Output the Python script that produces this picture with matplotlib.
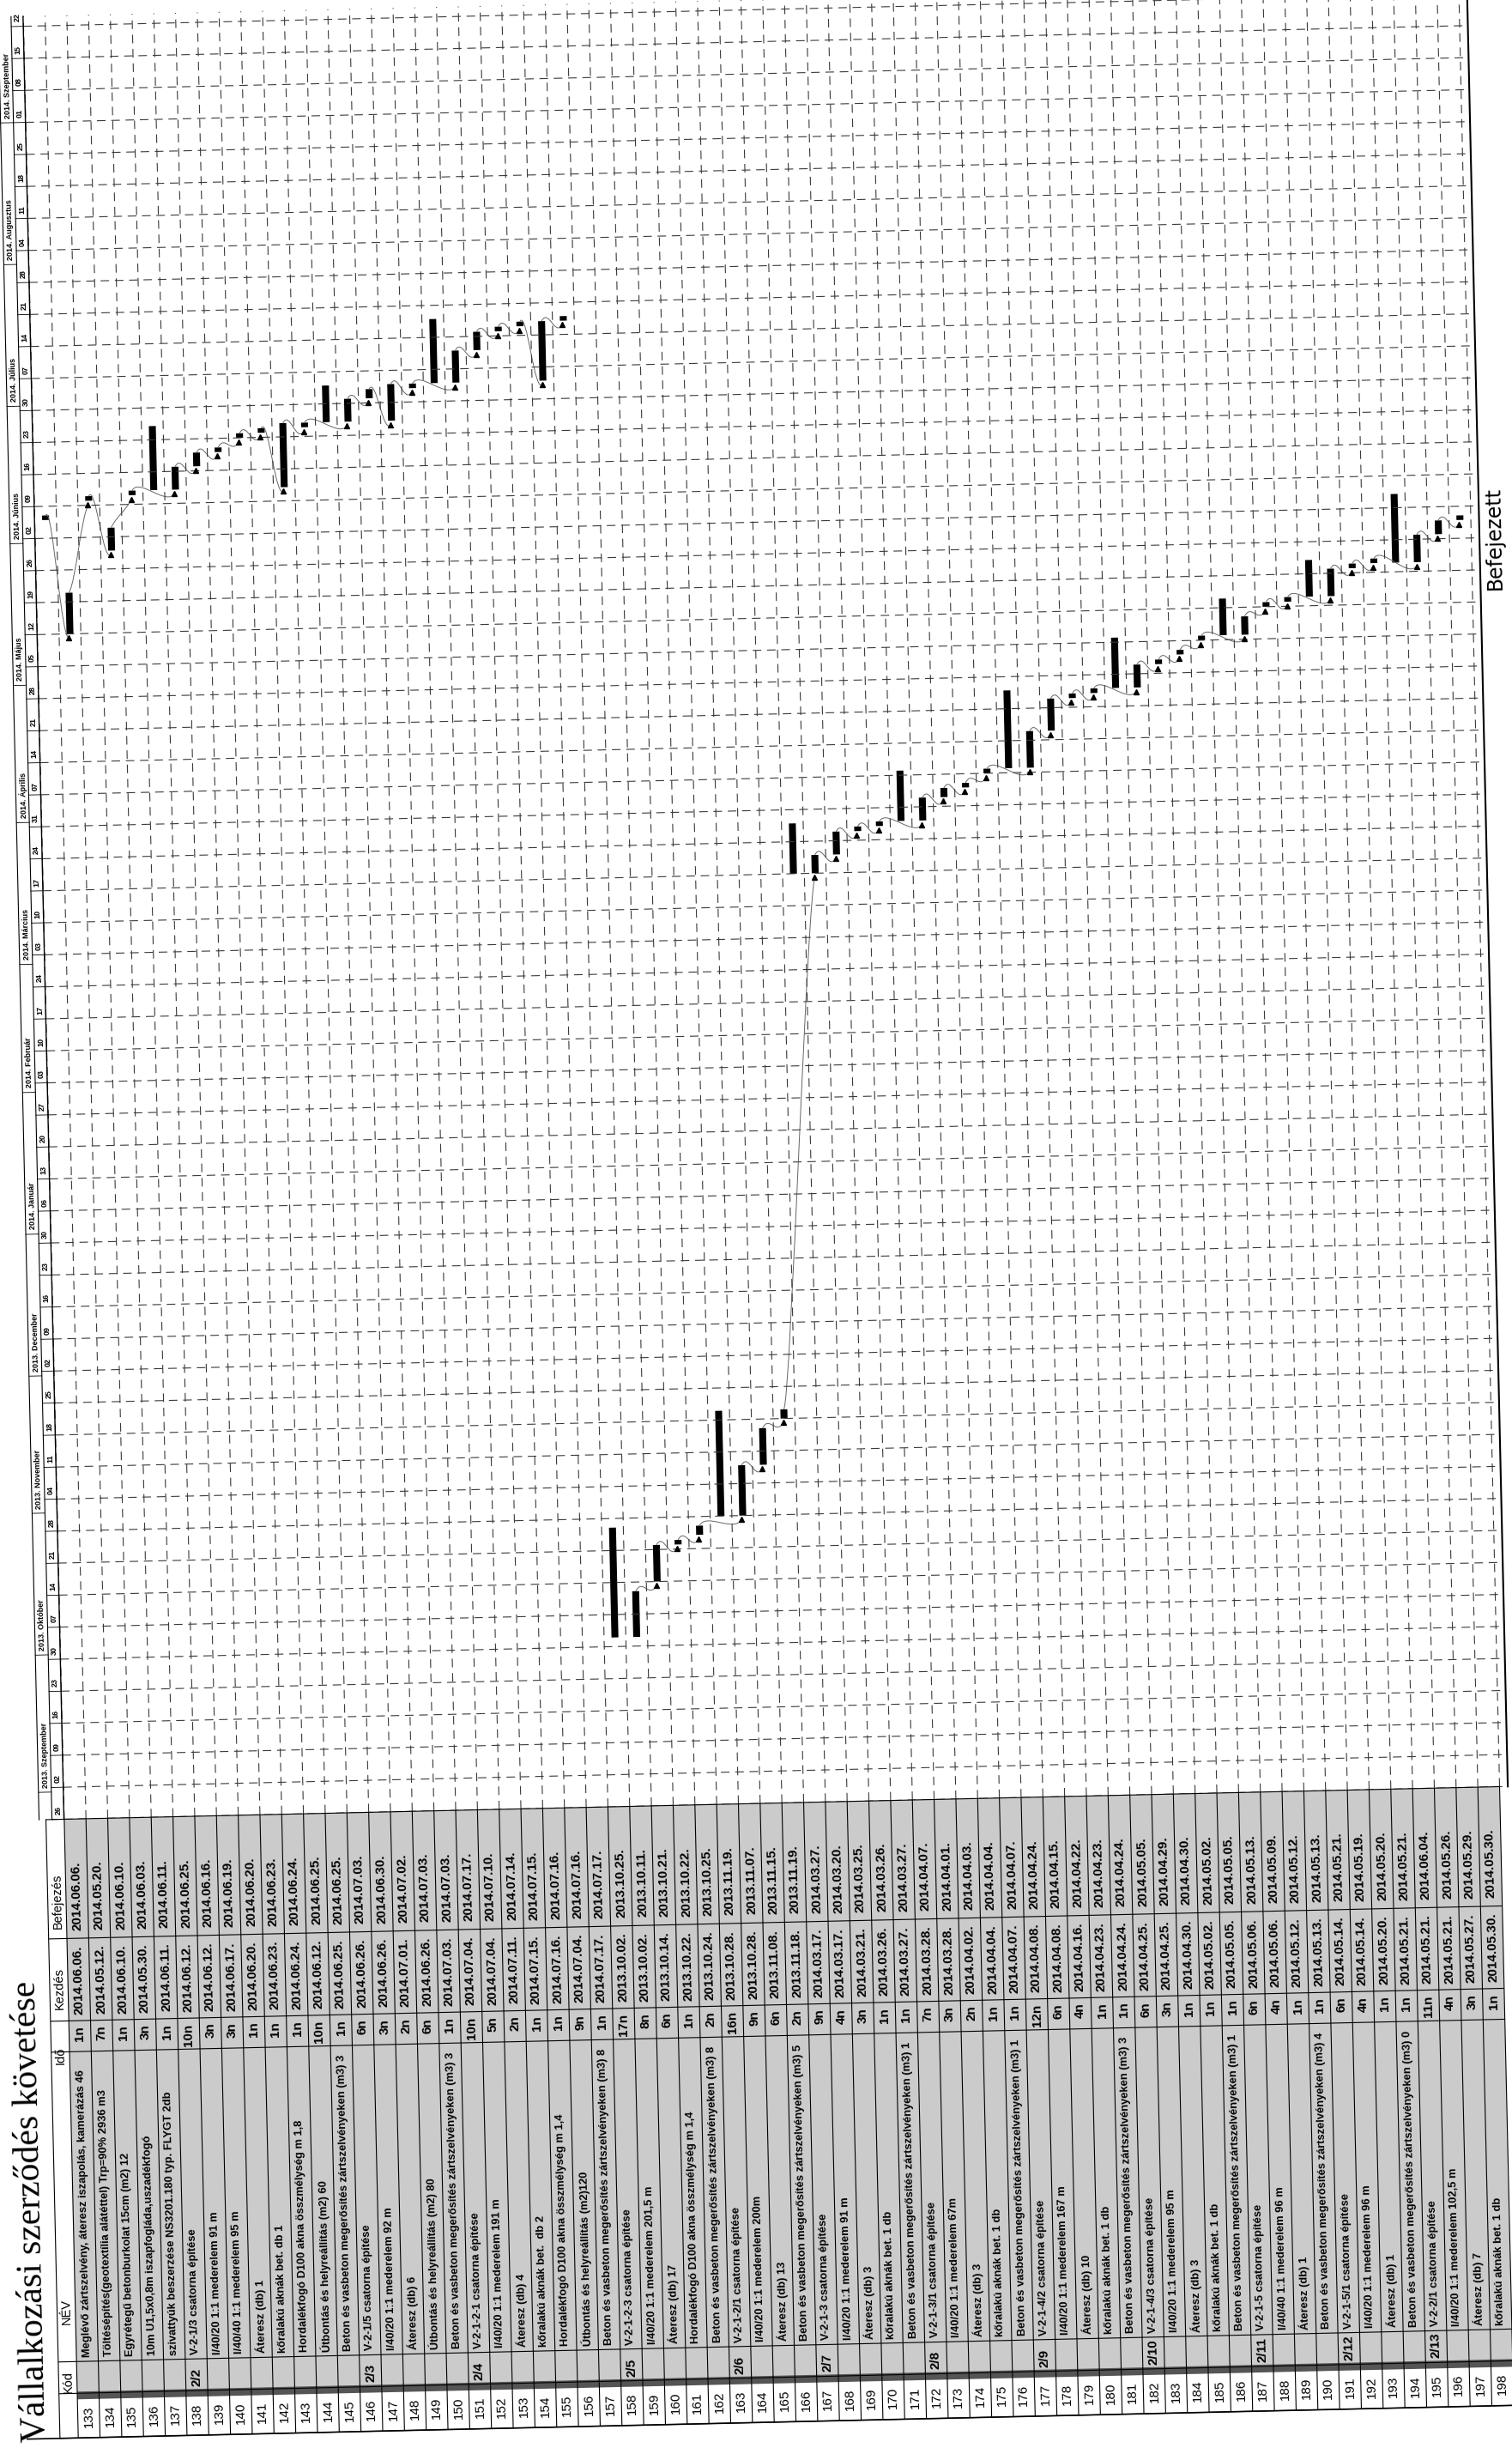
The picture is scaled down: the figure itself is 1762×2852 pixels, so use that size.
import pandas as pd
import numpy as np
import matplotlib
matplotlib.use("Agg")
import matplotlib.pyplot as plt
import matplotlib.dates as mdates
import matplotlib.transforms as mtransforms
import matplotlib.path as mpath
import matplotlib.patches as mpatches
import matplotlib.spines as mspines
import matplotlib.axis as maxis
import matplotlib.text as mtext
import matplotlib.artist as martist

# ---- table data ----
row_ids = list(range(133, 199))

codes = ["", "", "", "", "", "2/2", "", "", "", "", "", "", "",
         "2/3", "", "", "", "",
         "2/4", "", "", "", "", "", "",
         "2/5", "", "", "", "",
         "2/6", "", "", "",
         "2/7", "", "", "", "",
         "2/8", "", "", "", "",
         "2/9", "", "", "", "",
         "2/10", "", "", "", "",
         "2/11", "", "", "",
         "2/12", "", "", "",
         "2/13", "", "", ""]

names = [
    "Meglévő zártszelvény, áteresz iszapolás, kamerázás 46",
    "Töltésépítés(geotextília alátéttel) Trp=90% 2936 m3",
    "Egyrétegű betonburkolat 15cm (m2) 12",
    "10m U1,5x0,8m iszapfogláda,uszadékfogó",
    "szivattyúk beszerzése NS3201.180 typ. FLYGT 2db",
    "V-2-1/3 csatorna építése",
    "I/40/20 1:1 mederelem 91 m",
    "I/40/40 1:1 mederelem 95 m",
    "Áteresz (db) 1",
    "kőralakú aknák bet. db 1",
    "Hordalékfogó D100 akna összmélység m 1,8",
    "Útbontás és helyreállítás (m2) 60",
    "Beton és vasbeton megerősítés zártszelvényeken (m3) 3",
    "V-2-1/5 csatorna építése",
    "I/40/20 1:1 mederelem 92 m",
    "Áteresz (db) 6",
    "Útbontás és helyreállítás (m2) 80",
    "Beton és vasbeton megerősítés zártszelvényeken (m3) 3",
    "V-2-1-2-1 csatorna építése",
    "I/40/20 1:1 mederelem 191 m",
    "Áteresz (db) 4",
    "kőralakú aknák bet.  db 2",
    "Hordalékfogó D100 akna összmélység m 1,4",
    "Útbontás és helyreállítás (m2)120",
    "Beton és vasbeton megerősítés zártszelvényeken (m3) 8",
    "V-2-1-2-3 csatorna építése",
    "I/40/20 1:1 mederelem 201,5 m",
    "Áteresz (db) 17",
    "Hordalékfogó D100 akna összmélység m 1,4",
    "Beton és vasbeton megerősítés zártszelvényeken (m3) 8",
    "V-2-1-2/1 csatorna építése",
    "I/40/20 1:1 mederelem 200m",
    "Áteresz (db) 13",
    "Beton és vasbeton megerősítés zártszelvényeken (m3) 5",
    "V-2-1-3 csatorna építése",
    "I/40/20 1:1 mederelem 91 m",
    "Áteresz (db) 3",
    "kőralakú aknák bet. 1 db",
    "Beton és vasbeton megerősítés zártszelvényeken (m3) 1",
    "V-2-1-3/1 csatorna építése",
    "I/40/20 1:1 mederelem 67m",
    "Áteresz (db) 3",
    "kőralakú aknák bet. 1 db",
    "Beton és vasbeton megerősítés zártszelvényeken (m3) 1",
    "V-2-1-4/2 csatorna építése",
    "I/40/20 1:1 mederelem 167 m",
    "Áteresz (db) 10",
    "kőralakú aknák bet. 1 db",
    "Beton és vasbeton megerősítés zártszelvényeken (m3) 3",
    "V-2-1-4/3 csatorna építése",
    "I/40/20 1:1 mederelem 95 m",
    "Áteresz (db) 3",
    "kőralakú aknák bet. 1 db",
    "Beton és vasbeton megerősítés zártszelvényeken (m3) 1",
    "V-2-1-5 csatorna építése",
    "I/40/40 1:1 mederelem 96 m",
    "Áteresz (db) 1",
    "Beton és vasbeton megerősítés zártszelvényeken (m3) 4",
    "V-2-1-5/1 csatorna építése",
    "I/40/20 1:1 mederelem 96 m",
    "Áteresz (db) 1",
    "Beton és vasbeton megerősítés zártszelvényeken (m3) 0",
    "V-2-2/1 csatorna építése",
    "I/40/20 1:1 mederelem 102,5 m",
    "Áteresz (db) 7",
    "kőralakú aknák bet. 1 db",
]

durations = ["1n", "7n", "1n", "3n", "1n", "10n", "3n", "3n", "1n", "1n", "1n", "10n", "1n",
             "6n", "3n", "2n", "6n", "1n",
             "10n", "5n", "2n", "1n", "1n", "9n", "1n",
             "17n", "8n", "6n", "1n", "2n",
             "16n", "9n", "6n", "2n",
             "9n", "4n", "3n", "1n", "1n",
             "7n", "3n", "2n", "1n", "1n",
             "12n", "6n", "4n", "1n", "1n",
             "6n", "3n", "1n", "1n", "1n",
             "6n", "4n", "1n", "1n",
             "6n", "4n", "1n", "1n",
             "11n", "4n", "3n", "1n"]

start_dates = ["2014.06.06.", "2014.05.12.", "2014.06.10.", "2014.05.30.", "2014.06.11.",
               "2014.06.12.", "2014.06.12.", "2014.06.17.", "2014.06.20.", "2014.06.23.",
               "2014.06.24.", "2014.06.12.", "2014.06.25.",
               "2014.06.26.", "2014.06.26.", "2014.07.01.", "2014.06.26.", "2014.07.03.",
               "2014.07.04.", "2014.07.04.", "2014.07.11.", "2014.07.15.", "2014.07.16.",
               "2014.07.04.", "2014.07.17.",
               "2013.10.02.", "2013.10.02.", "2013.10.14.", "2013.10.22.", "2013.10.24.",
               "2013.10.28.", "2013.10.28.", "2013.11.08.", "2013.11.18.",
               "2014.03.17.", "2014.03.17.", "2014.03.21.", "2014.03.26.", "2014.03.27.",
               "2014.03.28.", "2014.03.28.", "2014.04.02.", "2014.04.04.", "2014.04.07.",
               "2014.04.08.", "2014.04.08.", "2014.04.16.", "2014.04.23.", "2014.04.24.",
               "2014.04.25.", "2014.04.25.", "2014.04.30.", "2014.05.02.", "2014.05.05.",
               "2014.05.06.", "2014.05.06.", "2014.05.12.", "2014.05.13.",
               "2014.05.14.", "2014.05.14.", "2014.05.20.", "2014.05.21.",
               "2014.05.21.", "2014.05.21.", "2014.05.27.", "2014.05.30."]

end_dates = ["2014.06.06.", "2014.05.20.", "2014.06.10.", "2014.06.03.", "2014.06.11.",
             "2014.06.25.", "2014.06.16.", "2014.06.19.", "2014.06.20.", "2014.06.23.",
             "2014.06.24.", "2014.06.25.", "2014.06.25.",
             "2014.07.03.", "2014.06.30.", "2014.07.02.", "2014.07.03.", "2014.07.03.",
             "2014.07.17.", "2014.07.10.", "2014.07.14.", "2014.07.15.", "2014.07.16.",
             "2014.07.16.", "2014.07.17.",
             "2013.10.25.", "2013.10.11.", "2013.10.21.", "2013.10.22.", "2013.10.25.",
             "2013.11.19.", "2013.11.07.", "2013.11.15.", "2013.11.19.",
             "2014.03.27.", "2014.03.20.", "2014.03.25.", "2014.03.26.", "2014.03.27.",
             "2014.04.07.", "2014.04.01.", "2014.04.03.", "2014.04.04.", "2014.04.07.",
             "2014.04.24.", "2014.04.15.", "2014.04.22.", "2014.04.23.", "2014.04.24.",
             "2014.05.05.", "2014.04.29.", "2014.04.30.", "2014.05.02.", "2014.05.05.",
             "2014.05.13.", "2014.05.09.", "2014.05.12.", "2014.05.13.",
             "2014.05.21.", "2014.05.19.", "2014.05.20.", "2014.05.21.",
             "2014.06.04.", "2014.05.26.", "2014.05.29.", "2014.05.30."]

header_labels = ["Kód", "NÉV", "Idő", "Kezdés", "Befejezés"]
month_labels = ["2013. Szeptember", "2013. Október", "2013. November", "2013. December",
                "2014. Január", "2014. Február", "2014. Március", "2014. Április",
                "2014. Május", "2014. Június", "2014. Július", "2014. Augusztus",
                "2014. Szeptember"]
title = "Vállalkozási szerződés követése"
legend_label = "Befejezett"

# ---- build frame ----
df = pd.DataFrame({"row": row_ids, "code": codes, "name": names, "dur": durations,
                   "start": start_dates, "end": end_dates})
df["s"] = mdates.date2num(pd.to_datetime(df["start"], format="%Y.%m.%d."))
df["e"] = mdates.date2num(pd.to_datetime(df["end"], format="%Y.%m.%d.")) + 1
df["summary"] = df["code"] != ""

# ---- page layout (pixels of the unrotated sheet) ----
W, H = 1762, 2852
ROW_X0, ROW_W = 72.0, 25.35
X_LO = 133 - ROW_X0 / ROW_W
X_HI = X_LO + W / ROW_W
CHART_BOT = 2101
PX_DAY = 5.33
t0 = mdates.date2num(pd.Timestamp("2013-08-26"))
t_top = t0 + CHART_BOT / PX_DAY
FONT = ["Liberation Sans Narrow", "Liberation Sans", "DejaVu Sans"]

fig = plt.figure(figsize=(W / 100, H / 100), dpi=100)
ax = fig.add_axes([0, 1 - CHART_BOT / H, 1, CHART_BOT / H])
ax.set_xlim(X_LO, X_HI)
ax.set_ylim(t0, t_top)
ax.axis("off")

tab = fig.add_axes([0, 0, 1, 1 - CHART_BOT / H])
tab.set_xlim(X_LO, X_HI)
tab.set_ylim(H, CHART_BOT)
tab.axis("off")

def xr(px):
    # sheet pixel column -> row coordinate
    return X_LO + px / ROW_W

bounds = np.arange(132.5, 199.5, 1.0)
weeks = pd.date_range("2013-08-26", "2014-09-22", freq="W-MON")
wk = mdates.date2num(weeks)
BORDER = 1742

# chart grid
ax.vlines(bounds, t0, t_top, colors="#3a3a3a", lw=0.8, linestyles=(0, (9, 6)))
ax.hlines(wk, xr(59), xr(BORDER), colors="#3a3a3a", lw=0.8, linestyles=(0, (9, 6)))

# timescale header on the left edge of the sheet
ax.axvline(xr(30), color="black", lw=0.8)
ax.axvline(xr(45), color="black", lw=0.8)
ax.axvline(xr(59), color="black", lw=1.0)
for w, d in zip(wk, weeks):
    ax.plot([xr(45), xr(59)], [w, w], color="black", lw=0.6)
    ax.text(xr(52.5), w + 1.0, d.strftime("%d"), rotation=90, rotation_mode="anchor",
            ha="left", va="center", fontsize=6.5, family=FONT, fontweight="bold")
months = pd.date_range("2013-09-01", "2014-09-01", freq="MS")
for m, lab in zip(mdates.date2num(months), month_labels):
    ax.plot([xr(30), xr(45)], [m, m], color="black", lw=0.6)
    ax.text(xr(38.5), m + 1.0, lab, rotation=90, rotation_mode="anchor",
            ha="left", va="center", fontsize=6.5, family=FONT, fontweight="bold")

# right border of the sheet and legend
ax.axvline(xr(BORDER), color="black", lw=1.5)
fig.text(1759 / W, 1 - 647 / H, legend_label, rotation=90, ha="center", va="center",
         fontsize=17, family="DejaVu Sans")

# task bars
ax.bar(df["row"], df["e"] - df["s"], bottom=df["s"], width=0.32, color="black")

# links between consecutive tasks
tasks = df[~df["summary"]].reset_index(drop=True)
for i in range(len(tasks) - 1):
    a, b = tasks.iloc[i], tasks.iloc[i + 1]
    if b["s"] < a["e"] - 30:
        continue
    p0 = (a["row"], a["e"])
    p3 = (b["row"], b["s"] - 0.6)
    verts = [p0, (a["row"] + 0.35, a["e"] + 3), (b["row"] - 0.4, b["s"] - 4), p3]
    path = mpath.Path(verts, [mpath.Path.MOVETO] + [mpath.Path.CURVE4] * 3)
    ax.add_patch(mpatches.PathPatch(path, fill=False, ec="#666666", lw=0.7))
    ax.plot(b["row"] - 0.05, b["s"] - 0.9, marker="^", ms=5, color="black")

# ---- table ----
COLS = [2101, 2240, 2336, 2372, 2733, 2770, 2822]
tab.add_patch(mpatches.Rectangle((132.5, COLS[0]), 66, COLS[5] - COLS[0],
                                 fc="#cbcbcb", ec="none"))
tab.vlines(bounds, COLS[0], COLS[-1], colors="black", lw=0.8)
tab.hlines(COLS, xr(38), 198.5, colors="black", lw=0.8)
tab.add_patch(mpatches.Rectangle((132.5, 2768), 66, 9, fc="#555555", ec="none"))
tab.plot([xr(0), xr(1762)], [COLS[-1], COLS[-1]], color="black", lw=1.2)
tab.plot([xr(38), xr(38)], [COLS[0], COLS[-1]], color="black", lw=0.8)

for lab, y in zip(header_labels, [2770, 2690, 2386, 2322, 2228]):
    tab.text(xr(49), y, lab, rotation=90, rotation_mode="anchor", ha="left", va="center",
             fontsize=10.5, family=FONT)

for _, r in df.iterrows():
    x = r["row"]
    tab.text(x, 2150, r["end"], rotation=90, rotation_mode="anchor", ha="right", va="center",
             fontsize=11, family=FONT, fontweight="bold")
    tab.text(x, 2248, r["start"], rotation=90, rotation_mode="anchor", ha="right", va="center",
             fontsize=11, family=FONT, fontweight="bold")
    tab.text(x, 2342, r["dur"], rotation=90, rotation_mode="anchor", ha="right", va="center",
             fontsize=11, family=FONT, fontweight="bold")
    tab.text(x, 2728, r["name"], rotation=90, rotation_mode="anchor", ha="left", va="center",
             fontsize=9.3, family=FONT, fontweight="bold")
    if r["code"]:
        tab.text(x, 2765, r["code"], rotation=90, rotation_mode="anchor", ha="left",
                 va="center", fontsize=11, family=FONT, fontweight="bold")
    tab.text(x, 2797, str(r["row"]), rotation=90, rotation_mode="anchor", ha="center",
             va="center", fontsize=11, family=FONT)

# document title on the left margin
tab.text(xr(10), 2826, title, rotation=90, rotation_mode="anchor", ha="left", va="center",
         fontsize=30, family="Liberation Serif")

# the sheet was scanned slightly askew
ANG = 1.3
rot = mtransforms.Affine2D().rotate_deg_around(W / 2, H / 2, ANG)
arts = list(fig.texts)
for a in fig.axes:
    arts += [c for c in a.get_children()
             if not isinstance(c, (mspines.Spine, maxis.Axis)) and c is not a.patch]
for art in arts:
    art.set_transform(martist.Artist.get_transform(art) + rot)
    art.set_clip_on(False)
    if isinstance(art, mtext.Text):
        art.set_rotation(art.get_rotation() + ANG)

fig.savefig("out.png", dpi=100)
